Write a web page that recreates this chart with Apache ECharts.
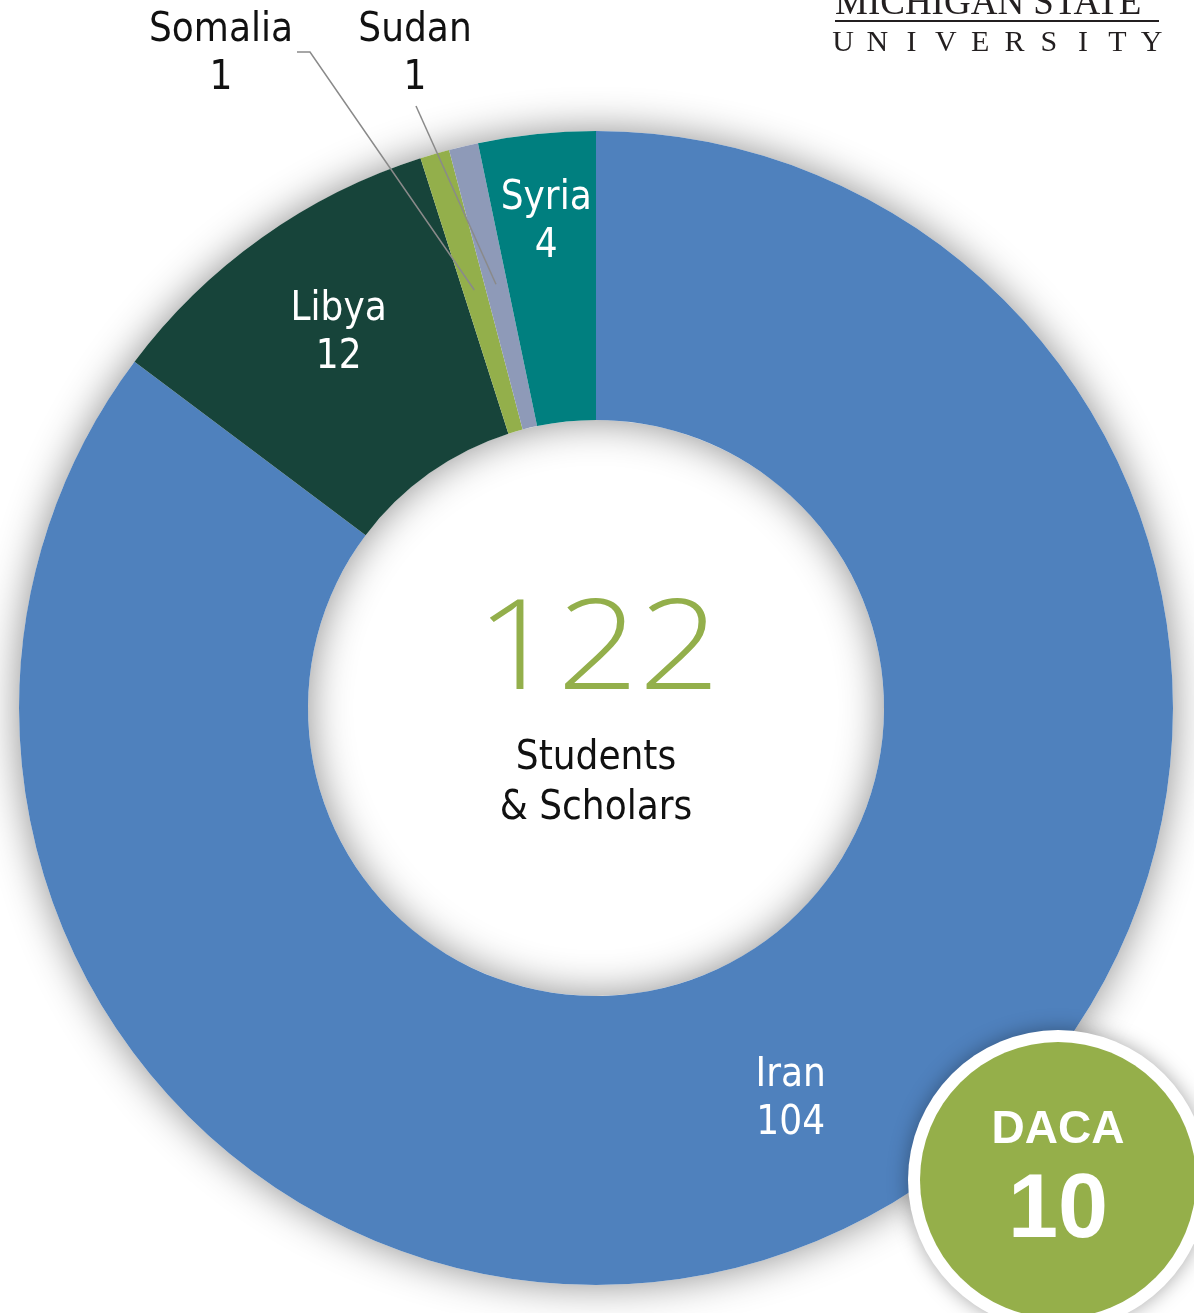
<!DOCTYPE html>
<html>
<head>
<meta charset="utf-8">
<script src="https://cdn.jsdelivr.net/npm/echarts@6/dist/echarts.min.js"></script>
<style>
html,body{margin:0;padding:0;background:#fff;}
#chart{width:1194px;height:1313px;}
</style>
</head>
<body>
<div id="chart"></div>
<script>
const countries = ['Iran', 'Libya', 'Somalia', 'Sudan', 'Syria'];
const counts = [104, 12, 1, 1, 4];
const colors = ['#4F81BD', '#17443A', '#93AF4B', '#8E9AB8', '#007F7F'];
const totalLabel = '122';
const totalCaption = 'Students\n& Scholars';
const dacaLabel = 'DACA';
const dacaValue = 10;

const narrow = "'Liberation Sans Narrow', 'DejaVu Sans Condensed', 'Roboto Condensed', sans-serif";
const cx = 596, cy = 708;
const R0 = 288, R1 = 577;

const labelStyles = {
  Iran:    { position: 'inside', color: '#fff', offset: [0, 2] },
  Libya:   { position: 'inside', color: '#fff', offset: [-5, -19] },
  Syria:   { position: 'inside', color: '#fff', offset: [-5, -52] },
  Somalia: { position: 'outside', color: '#111' },
  Sudan:   { position: 'outside', color: '#111' }
};
const outsidePos = { Somalia: [221, 55], Sudan: [415, 55] };

const chart = echarts.init(document.getElementById('chart'), null, { renderer: 'canvas' });

const data = countries.map((n, i) => {
  const ls = labelStyles[n];
  return {
    name: n,
    value: counts[i],
    itemStyle: { color: colors[i] },
    label: {
      show: true,
      position: ls.position,
      color: ls.color,
      offset: ls.offset || [0, 0],
      formatter: '{b}\n{c}',
      fontFamily: narrow,
      fontSize: 40,
      lineHeight: 48,
      align: 'center'
    },
    labelLine: { show: false }
  };
});

const uni = 'UNIVERSITY'.split('');
const logoGraphics = [
  { type: 'text', left: 835, top: -14, style: { text: 'MICHIGAN STATE', font: "37px 'Liberation Serif', serif", fill: '#231F20' } },
  { type: 'rect', shape: { x: 835, y: 20, width: 324, height: 2 }, style: { fill: '#231F20' } }
].concat(uni.map((ch, i) => ({
  type: 'text', x: 843 + i * 34.3, y: 43,
  style: { text: ch, font: "30px 'Liberation Serif', serif", fill: '#231F20', align: 'center', verticalAlign: 'middle' }
})));

const baseGraphics = logoGraphics.concat([
  { type: 'text', x: cx + 2, y: 653, z: 10, scaleX: 1.13,
    style: { text: totalLabel, font: "300 126px 'Open Sans', sans-serif", fill: '#93AF4B', align: 'center', verticalAlign: 'middle' } },
  { type: 'text', x: cx, y: 784, z: 10,
    style: { text: totalCaption, font: "40px " + narrow, lineHeight: 50, fill: '#111', align: 'center', verticalAlign: 'middle' } },
  { type: 'circle', shape: { cx: 1058, cy: 1180, r: 150 }, z: 20,
    style: { fill: '#fff', shadowBlur: 20, shadowColor: 'rgba(0,0,0,0.35)' } },
  { type: 'circle', shape: { cx: 1058, cy: 1180, r: 138 }, z: 21,
    style: { fill: '#95AF4A' } },
  { type: 'text', x: 1058, y: 1130, z: 22,
    style: { text: dacaLabel, font: "bold 46px 'Liberation Sans', sans-serif", fill: '#fff', align: 'center', verticalAlign: 'middle' } },
  { type: 'text', x: 1058, y: 1212, z: 22,
    style: { text: String(dacaValue), font: "bold 90px 'Liberation Sans', sans-serif", fill: '#fff', align: 'center', verticalAlign: 'middle' } }
]);

chart.setOption({
  backgroundColor: '#fff',
  animation: false,
  graphic: baseGraphics,
  series: [
    {
      type: 'pie',
      silent: true,
      z: 1,
      center: [cx, cy],
      radius: [R0, R1],
      label: { show: false },
      labelLine: { show: false },
      itemStyle: { color: '#ffffff', shadowBlur: 40, shadowColor: 'rgba(0,0,0,0.45)' },
      data: [{ value: 1, name: 'shadow' }]
    },
    {
      type: 'pie',
      z: 2,
      center: [cx, cy],
      radius: [R0, R1],
      startAngle: 90,
      clockwise: true,
      avoidLabelOverlap: false,
      itemStyle: { borderWidth: 0 },
      emphasis: { disabled: true },
      labelLayout: function (params) {
        const n = countries[params.dataIndex];
        if (outsidePos[n]) {
          return { x: outsidePos[n][0], y: outsidePos[n][1], align: 'center', verticalAlign: 'middle' };
        }
        return {};
      },
      data: data
    }
  ]
});

const pieData = chart.getModel().getSeriesByIndex(1).getData();
const leaderStart = { Somalia: [[297, 52], [310, 52]], Sudan: [[416, 106]] };
const leaders = [];
countries.forEach((n, i) => {
  if (!leaderStart[n]) return;
  const lay = pieData.getItemLayout(i);
  const mid = (lay.startAngle + lay.endAngle) / 2;
  const rr = lay.r0 + (lay.r - lay.r0) * 0.51;
  const end = [lay.cx + rr * Math.cos(mid), lay.cy + rr * Math.sin(mid)];
  leaders.push({
    type: 'polyline', z: 30, silent: true,
    shape: { points: leaderStart[n].concat([end]) },
    style: { stroke: '#8a8a8a', lineWidth: 1.5, fill: null }
  });
});
chart.setOption({ graphic: baseGraphics.concat(leaders) });
</script>
</body>
</html>
